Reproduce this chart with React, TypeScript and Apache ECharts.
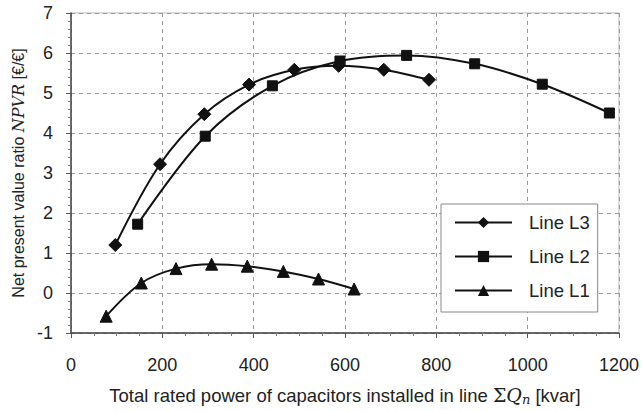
import React, { useEffect, useRef } from "react";
import * as echarts from "echarts";

const l3X = [97, 195, 292, 390, 489, 586, 685, 784];
const l3Y = [1.2, 3.22, 4.47, 5.21, 5.58, 5.68, 5.58, 5.33];
const l2X = [146, 294, 441, 589, 735, 884, 1032, 1179];
const l2Y = [1.72, 3.92, 5.18, 5.8, 5.94, 5.73, 5.22, 4.5];
const l1X = [77, 154, 230, 308, 386, 465, 542, 620];
const l1Y = [-0.58, 0.25, 0.61, 0.72, 0.67, 0.54, 0.35, 0.1];
const seriesNames = ["Line L3", "Line L2", "Line L1"];

const zip = (xs: number[], ys: number[]) => xs.map((x, i) => [x, ys[i]]);

export default function App() {
  const ref = useRef<HTMLDivElement>(null);
  useEffect(() => {
    if (!ref.current) return;
    const chart = echarts.init(ref.current, null, { renderer: "svg" });
    const font = "Liberation Sans, Arial, sans-serif";
    const mk = (name: string, data: number[][], symbol: string, size: number) => ({
      name,
      type: "line",
      data,
      smooth: 0.35,
      symbol,
      symbolSize: size,
      showAllSymbol: true,
      lineStyle: { color: "#111", width: 2 },
      itemStyle: { color: "#111", borderColor: "#111" },
      z: 3,
    });
    chart.setOption({
      animation: false,
      backgroundColor: "#fff",
      grid: { left: 71, right: 22, top: 13, bottom: 78, show: true, borderColor: "#bbb", borderWidth: 1 },
      legend: {
        orient: "vertical",
        left: 441,
        top: 204,
        padding: [9, 8, 12, 13],
        itemWidth: 57,
        itemHeight: 14,
        itemGap: 15,
        backgroundColor: "#fff",
        borderColor: "#888",
        borderWidth: 1,
        borderRadius: 0,
        textStyle: { fontFamily: font, fontSize: 18.5, lineHeight: 18, color: "#222", padding: [0, 0, 0, 12] },
        data: seriesNames,
      },
      xAxis: {
        type: "value",
        min: 0,
        max: 1200,
        interval: 200,
        name: "{t|Total rated power of capacitors installed in line }{s|Σ}{q|Q}{n|n}{t| [kvar]}",
        nameLocation: "middle",
        nameGap: 51,
        nameTextStyle: {
          rich: {
            t: { fontFamily: font, fontSize: 18.5, color: "#222" },
            s: { fontFamily: "DejaVu Serif, serif", fontSize: 19, color: "#222" },
            q: { fontFamily: "DejaVu Serif, serif", fontStyle: "italic", fontSize: 19, color: "#222" },
            n: { fontFamily: "DejaVu Serif, serif", fontStyle: "italic", fontSize: 13, color: "#222", padding: [9, 0, 0, 0] },
          },
        },
        axisLine: { show: true, onZero: false, lineStyle: { color: "#444", width: 1.5 } },
        axisTick: { show: true, length: 5, inside: false, lineStyle: { color: "#555" } },
        minorTick: { show: true, splitNumber: 4, length: 3, lineStyle: { color: "#777" } },
        axisLabel: { fontFamily: font, fontSize: 18, color: "#222", margin: 23, formatter: (v: number) => String(v) },
        splitLine: { show: true, lineStyle: { color: "#999", type: [4, 4], width: 1 } },
      },
      yAxis: {
        type: "value",
        min: -1,
        max: 7,
        interval: 1,
        name: "{t|Net present value ratio }{i|NPVR}{t| [€/€]}",
        nameLocation: "middle",
        nameGap: 45,
        nameRotate: 90,
        nameTextStyle: {
          rich: {
            t: { fontFamily: font, fontSize: 16, color: "#222" },
            i: { fontFamily: "DejaVu Serif, serif", fontStyle: "italic", fontSize: 16, color: "#222" },
          },
        },
        axisLine: { show: true, onZero: false, lineStyle: { color: "#444", width: 1.5 } },
        axisTick: { show: true, length: 5, lineStyle: { color: "#555" } },
        minorTick: { show: true, splitNumber: 5, length: 3, lineStyle: { color: "#777" } },
        axisLabel: { fontFamily: font, fontSize: 18, color: "#222", margin: 18 },
        splitLine: { show: true, lineStyle: { color: "#999", type: [4, 4], width: 1 } },
      },
      series: [
        mk(seriesNames[0], zip(l3X, l3Y), "diamond", 13),
        mk(seriesNames[1], zip(l2X, l2Y), "rect", 10),
        mk(seriesNames[2], zip(l1X, l1Y), "triangle", 12),
      ],
    });
    return () => chart.dispose();
  }, []);
  return <div ref={ref} style={{ width: 642, height: 411, position: "absolute", left: 0, top: 0 }} />;
}
